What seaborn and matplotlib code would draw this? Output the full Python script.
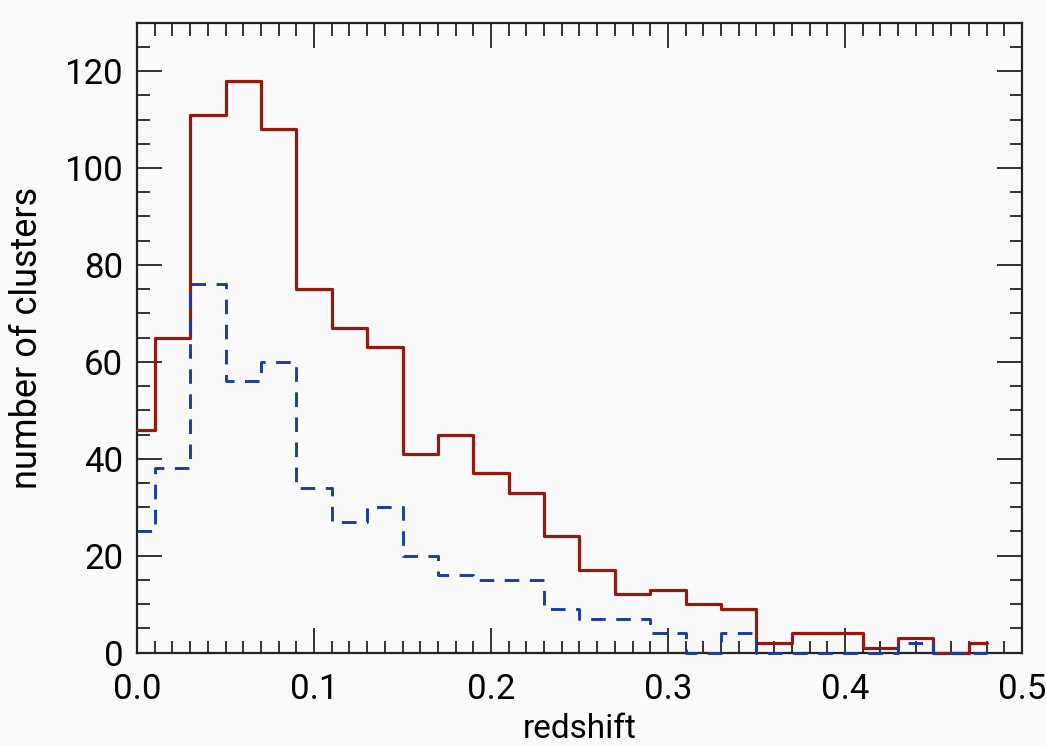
import numpy as np
import pandas as pd
import seaborn as sns
import matplotlib.pyplot as plt
from matplotlib.ticker import MultipleLocator, FormatStrFormatter

# bin centres (redshift) and counts
redshift = [0.00, 0.02, 0.04, 0.06, 0.08, 0.10, 0.12, 0.14, 0.16, 0.18,
            0.20, 0.22, 0.24, 0.26, 0.28, 0.30, 0.32, 0.34, 0.36, 0.38,
            0.40, 0.42, 0.44, 0.46, 0.48]
red_counts = [46, 65, 111, 118, 108, 75, 67, 63, 41, 45,
              37, 33, 24, 17, 12, 13, 10, 9, 2, 4,
              4, 1, 3, 0, 2]
blue_counts = [25, 38, 76, 56, 60, 34, 27, 30, 20, 16,
               15, 15, 9, 7, 7, 4, 0, 4, 0, 0,
               0, 0, 2, 0, 0]

x_ticks = [0.0, 0.1, 0.2, 0.3, 0.4, 0.5]
y_ticks = [0, 20, 40, 60, 80, 100, 120]

sns.set_theme(style="ticks")
plt.rcParams['font.family'] = ['Roboto', 'Liberation Sans', 'DejaVu Sans']
plt.rcParams['text.color'] = 'black'
plt.rcParams['axes.labelcolor'] = 'black'
plt.rcParams['xtick.labelcolor'] = 'black'
plt.rcParams['ytick.labelcolor'] = 'black'

bg = '#fafafa'
fig = plt.figure(figsize=(10.46, 7.46), dpi=100, facecolor=bg)
ax = fig.add_axes([0.131, 0.1253, 0.846, 0.8443])
ax.set_facecolor(bg)

sns.lineplot(x=redshift, y=red_counts, drawstyle='steps-mid', color='#921a12',
             linewidth=2.3, ax=ax, clip_on=False, zorder=4)
sns.lineplot(x=redshift, y=blue_counts, drawstyle='steps-mid', color='#1c3aa6',
             linewidth=2.1, linestyle=(0, (5, 3.6)), ax=ax, clip_on=False, zorder=5)

ax.set_xlim(0, 0.5)
ax.set_ylim(0, 130)
ax.set_xticks(x_ticks)
ax.set_yticks(y_ticks)
ax.xaxis.set_major_formatter(FormatStrFormatter('%.1f'))
ax.xaxis.set_minor_locator(MultipleLocator(0.01))
ax.yaxis.set_minor_locator(MultipleLocator(5))
ax.tick_params(which='both', direction='in', top=True, right=True,
               width=1.3, color='#222222')
ax.tick_params(which='major', length=18, labelsize=25)
ax.tick_params(axis='y', which='major', pad=10)
ax.tick_params(axis='x', which='major', pad=15)
ax.tick_params(which='minor', length=9)
for s in ax.spines.values():
    s.set_linewidth(1.6)
    s.set_color('#222222')
    s.set_zorder(3)

ax.set_xlabel('redshift', fontsize=24, labelpad=5)
ax.set_ylabel('number of clusters', fontsize=26, labelpad=14)

fig.savefig('out.png', dpi=100, facecolor=bg)
